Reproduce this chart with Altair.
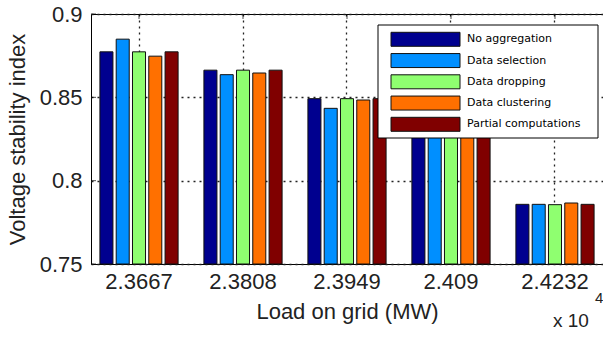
import altair as alt
import pandas as pd

loads = ["2.3667", "2.3808", "2.3949", "2.409", "2.4232"]
series = ["No aggregation", "Data selection", "Data dropping", "Data clustering", "Partial computations"]
colors = ["#00008F", "#008FFF", "#8FFF70", "#FF7000", "#800000"]

no_aggregation = [0.8773, 0.8663, 0.8492, 0.8350, 0.7858]
data_selection = [0.8849, 0.8636, 0.8434, 0.8340, 0.7858]
data_dropping = [0.8773, 0.8663, 0.8492, 0.8350, 0.7856]
data_clustering = [0.8747, 0.8646, 0.8484, 0.8345, 0.7866]
partial_computations = [0.8773, 0.8663, 0.8492, 0.8350, 0.7858]
y_ticks = [0.75, 0.8, 0.85, 0.9]

all_values = [no_aggregation, data_selection, data_dropping, data_clustering, partial_computations]
rows = []
for s, vals in zip(series, all_values):
    for l, v in zip(loads, vals):
        rows.append({"load": l, "series": s, "value": v})
df = pd.DataFrame(rows)

FONT = "Liberation Sans"
color_scale = alt.Scale(domain=series, range=colors)

x_axis = alt.Axis(title="Load on grid (MW)", labelAngle=0, ticks=False, tickSize=0,
                  domain=False, grid=True, labelPadding=7, titlePadding=9)
y_axis = alt.Axis(title="Voltage stability index", values=y_ticks, format=".2~f",
                  ticks=False, tickSize=0, domain=False, grid=True,
                  labelPadding=9, titlePadding=10)
x_scale = alt.Scale(paddingInner=0.22, paddingOuter=0.0716)
y_scale = alt.Scale(domain=[0.75, 0.9], zero=False, nice=False)

xt = pd.DataFrame({"load": loads})
yt = pd.DataFrame({"value": y_ticks})

bars = alt.Chart(df).mark_bar(stroke="#111111", strokeWidth=1).encode(
    x=alt.X("load:N", sort=loads, scale=x_scale, axis=x_axis),
    xOffset=alt.XOffset("series:N", sort=series,
                        scale=alt.Scale(paddingInner=0.2, paddingOuter=0.09)),
    y=alt.Y("value:Q", scale=y_scale, axis=y_axis),
    y2=alt.datum(0.75),
    color=alt.Color("series:N", scale=color_scale, legend=None),
)

# inward MATLAB-style ticks
x_ticks = alt.Chart(xt).mark_tick(color="black", thickness=1, size=5, orient="vertical").encode(
    x=alt.X("load:N", sort=loads, scale=x_scale, axis=x_axis),
    y=alt.value(2.5),
)
y_tick_marks = alt.Chart(yt).mark_tick(color="black", thickness=1, size=5, orient="horizontal").encode(
    y=alt.Y("value:Q", scale=y_scale, axis=y_axis),
    x=alt.value(2.5),
)

# legend (drawn inside the plot, top right)
leg = pd.DataFrame({"series": series, "row": list(range(len(series)))})
leg["ly"] = 25.3 + 21.25 * leg["row"]
leg["ly1"] = leg["ly"] - 7
leg["ly2"] = leg["ly"] + 7

box = alt.Chart(pd.DataFrame({"a": [0]})).mark_rect(
    fill="white", stroke="black", strokeWidth=1
).encode(x=alt.value(287), x2=alt.value(507), y=alt.value(11), y2=alt.value(124))

swatches = alt.Chart(leg).mark_rect(stroke="#111111", strokeWidth=1).encode(
    x=alt.value(300), x2=alt.value(369),
    y=alt.Y("ly1:Q", scale=None), y2=alt.Y2("ly2:Q"),
    color=alt.Color("series:N", scale=color_scale, legend=None),
)
labels = alt.Chart(leg).mark_text(
    align="left", baseline="middle", font="DejaVu Sans", fontSize=11, color="black"
).encode(
    x=alt.value(376), y=alt.Y("ly:Q", scale=None), text="series:N",
)

exp_base = alt.Chart(pd.DataFrame({"a": [0]})).mark_text(
    text="x 10", align="left", baseline="alphabetic", font=FONT, fontSize=19, color="#222222"
).encode(x=alt.value(462), y=alt.value(313))
exp_pow = alt.Chart(pd.DataFrame({"a": [0]})).mark_text(
    text="4", align="left", baseline="alphabetic", font=FONT, fontSize=15, color="#222222"
).encode(x=alt.value(504), y=alt.value(289))

chart = alt.layer(
    bars, x_ticks, y_tick_marks, box, swatches, labels, exp_base, exp_pow
).properties(
    width=512, height=250,
    autosize=alt.AutoSizeParams(type="none"),
    padding={"left": 91, "top": 14, "right": 0, "bottom": 77},
    background="white",
).configure_view(
    stroke="black", strokeWidth=1
).configure_axis(
    labelFont=FONT, labelFontSize=22, labelColor="#222222",
    titleFont=FONT, titleFontSize=22, titleFontWeight="normal", titleColor="#222222",
    gridColor="#222222", gridDash=[2, 4], gridWidth=1.3, gridOpacity=1,
)

chart.save("out.html", embed_options={"renderer": "svg", "actions": False})
